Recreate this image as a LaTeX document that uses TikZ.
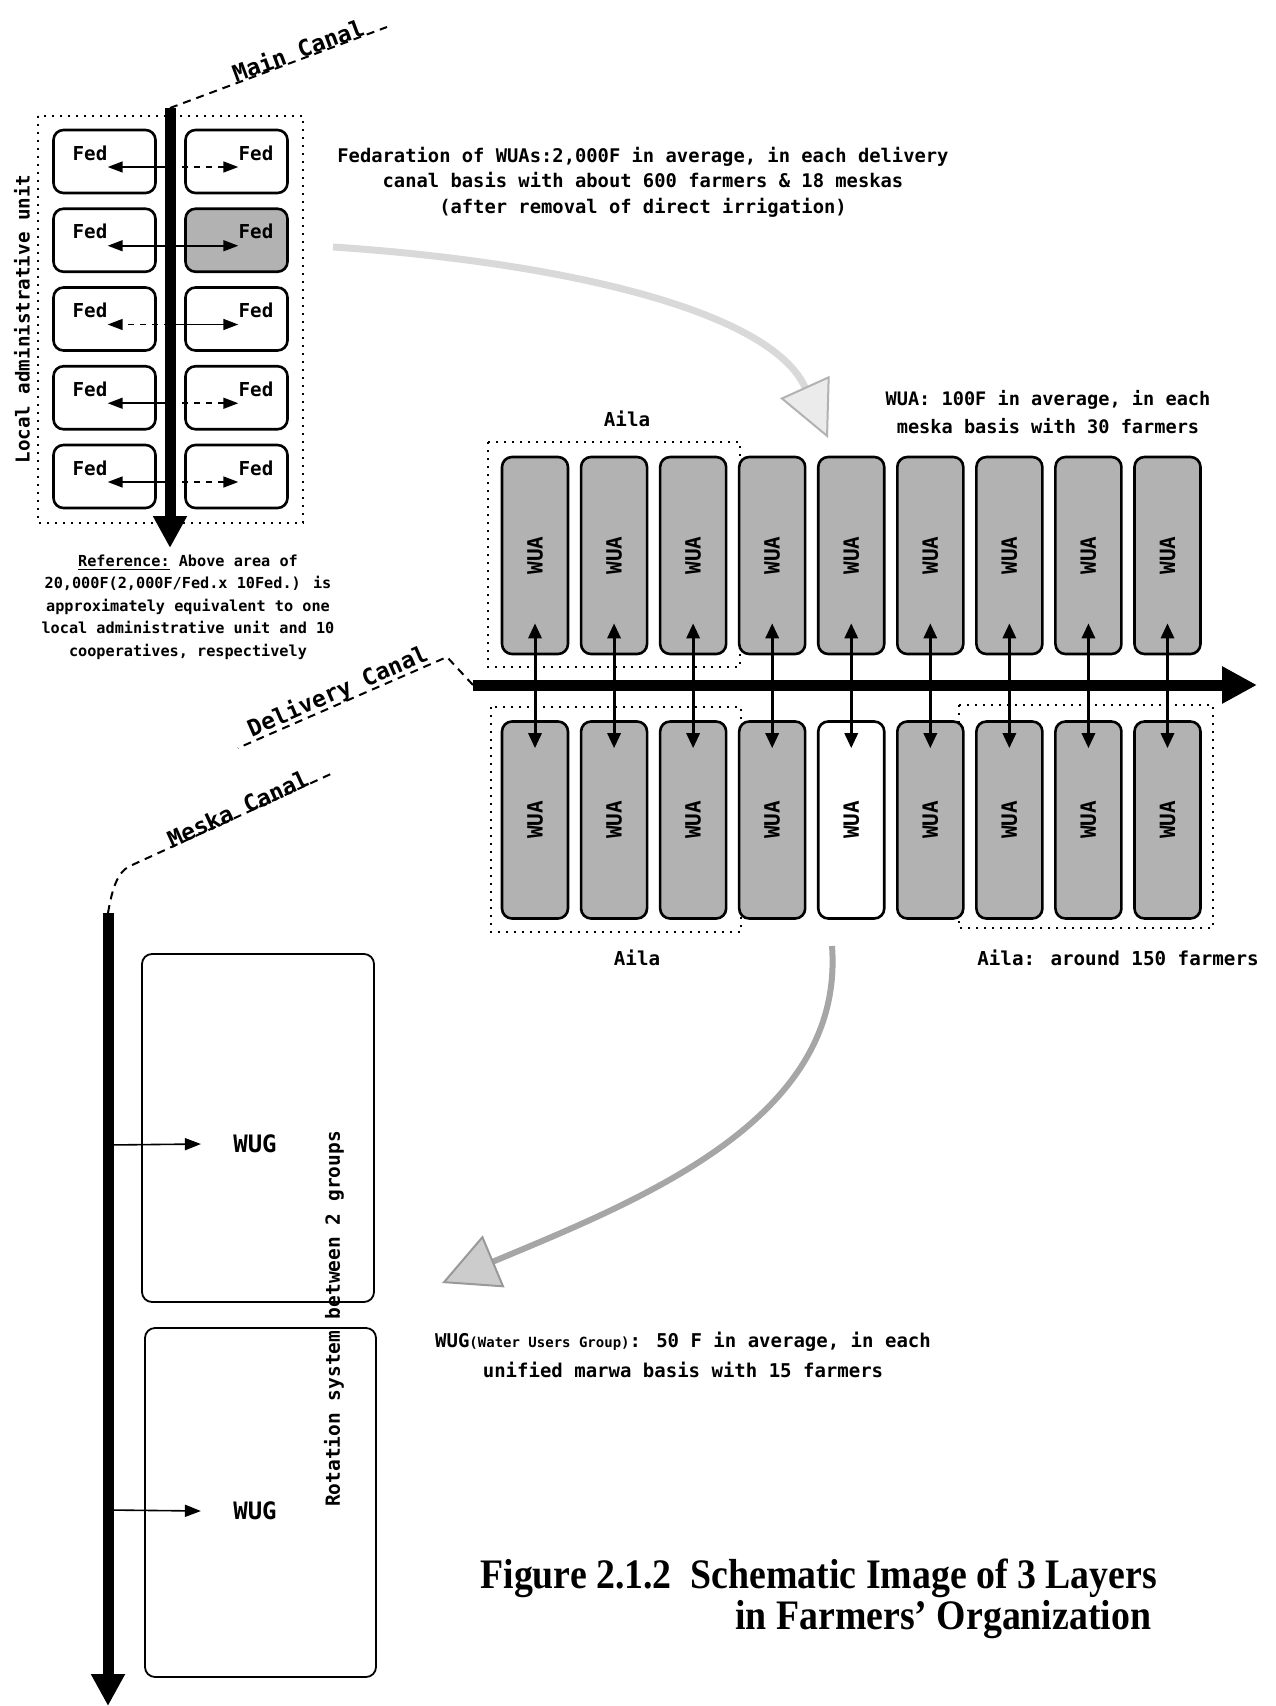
\documentclass[tikz,border=0pt]{standalone}
\usepackage{fontspec}
\setmainfont{DejaVu Sans Mono}
\newfontfamily\capfont[FakeStretch=0.9]{Liberation Serif}
\usetikzlibrary{arrows.meta,positioning}

\tikzset{
  canal/.style={line width=5.5pt, -{Triangle[length=16pt,width=16pt]}},
  tag/.style={line width=1pt, dash pattern=on 4pt off 3pt},
  tagtext/.style={inner sep=0pt, font=\fontsize{11.5}{13}\selectfont\bfseries},
  dotbox/.style={line width=1.2pt, dash pattern=on 1.2pt off 2.8pt},
  fedbox/.style={draw, line width=1.3pt, rounded corners=5pt, minimum width=51pt, minimum height=31.5pt},
  wuabox/.style={draw, line width=1.3pt, rounded corners=5pt, fill=black!30, minimum width=33pt, minimum height=98.5pt, inner sep=0pt, font=\fontsize{10.5}{12}\selectfont\bfseries},
  wugbox/.style={draw, line width=0.9pt, rounded corners=5pt},
  lbl/.style={inner sep=0pt, font=\fontsize{9.6}{11}\selectfont\bfseries},
  note/.style={inner sep=0pt, align=center, font=\fontsize{9.4}{12.75}\selectfont\bfseries},
  fedlink/.style={line width=0.8pt, -{Triangle[length=7.5pt,width=5.5pt]}},
  link/.style={line width=1.5pt, {Triangle[length=7.5pt,width=6.5pt]}-{Triangle[length=7.5pt,width=6.5pt]}},
  feed/.style={line width=0.8pt, -{Triangle[length=8pt,width=6pt]}},
  hop/.style={line width=3pt, draw=black!35, -{Triangle[length=28pt,width=28pt,fill=black!20,color=black!40,line width=1pt]}},
  captext/.style={inner sep=0pt, font=\capfont\fontsize{21}{24}\selectfont\bfseries}
}

\begin{document}
\begin{tikzpicture}[x=0.5pt, y=-0.5pt]
  \useasboundingbox (0,0) rectangle (1275,1706);

  % federations on the main canal
  \draw[dotbox] (38,116) rectangle (303,523);
  \node[lbl, rotate=90] (lau) at (22,319) {Local administrative unit};
  \foreach \i/\f/\ls/\rs in {1/white/solid/dashed, 2/black!30/solid/solid, 3/white/dashed/solid, 4/white/solid/dashed, 5/white/solid/dashed}{
    \pgfmathsetmacro\yc{161.5+78.75*(\i-1)}
    \node[fedbox] (fl\i) at (104.5,\yc) {};
    \node[fedbox, fill=\f] (fr\i) at (236.5,\yc) {};
    \node[lbl] (tl\i) at (90,\yc-8.5) {Fed};
    \node[lbl] (tr\i) at (256,\yc-8.5) {Fed};
    \coordinate (c\i) at (170,\yc+5.5);
    \draw[fedlink, \ls] (c\i) -- (c\i -| tl\i.east);
    \draw[fedlink, \rs] (c\i) -- (c\i -| tr\i.west);
  }
  \coordinate (mc0) at (170,108);
  \coordinate (mc1) at (170,548);
  \coordinate (mct) at (387,27);
  \draw[canal] (mc0) -- (mc1);
  \draw[tag] (mc0) -- (mct);
  \node[tagtext, rotate=20.4] (mcl) at (298,50) {Main Canal};

  \node[note] (fednote) at (643,182) {Fedaration of WUAs:2,000F in average, in each delivery\\canal basis with about 600 farmers \& 18 meskas\\(after removal of direct irrigation)};
  \node[note, font=\fontsize{7.6}{11.25}\selectfont\bfseries] (refnote) at (188,607) {\underline{Reference:} Above area of\\20,000F(2,000F/Fed.x 10Fed.) is\\approximately equivalent to one\\local administrative unit and 10\\cooperatives, respectively};

  % WUAs on the delivery canal
  \draw[dotbox] (488,442) rectangle (740,667);
  \draw[dotbox] (491,707) rectangle (741,932);
  \draw[dotbox] (959,705) rectangle (1213,928);
  \foreach \k/\f in {1/black!30, 2/black!30, 3/black!30, 4/black!30, 5/white, 6/black!30, 7/black!30, 8/black!30, 9/black!30}{
    \pgfmathsetmacro\xc{535+79.06*(\k-1)}
    \node[wuabox] (wt\k) at (\xc,555.5) {\rotatebox{90}{WUA}};
    \node[wuabox, fill=\f] (wb\k) at (\xc,820) {\rotatebox{90}{WUA}};
    \draw[link] ([yshift=16pt]wt\k.south) -- ([yshift=-14pt]wb\k.north);
  }
  \coordinate (dc0) at (473,685);
  \coordinate (dc1) at (1257,685);
  \coordinate (dck) at (447,657);
  \coordinate (dct) at (238,748);
  \draw[canal, -{Triangle[length=17.5pt,width=17.5pt]}] (dc0) -- (dc1);
  \draw[tag] (dc0) -- (dck) -- (dct);
  \node[tagtext, rotate=23.5] (dcl) at (338,692) {Delivery Canal};

  \node[lbl] (aila1) at (627,419) {Aila};
  \node[lbl] (aila2) at (637,958) {Aila};
  \node[lbl] (aila3) at (1118,958) {Aila: around 150 farmers};
  \node[note, font=\fontsize{9.3}{14.25}\selectfont\bfseries] (wuanote) at (1048,412) {WUA: 100F in average, in each\\meska basis with 30 farmers};

  % WUGs on the meska canal
  \node[wugbox, minimum width=116pt, minimum height=174pt] (g1) at (258,1128) {};
  \node[wugbox, minimum width=115.5pt, minimum height=174.5pt] (g2) at (260.5,1502.5) {};
  \node[lbl, font=\fontsize{12}{14}\selectfont\bfseries] (u1) at (255,1144) {WUG};
  \node[lbl, font=\fontsize{12}{14}\selectfont\bfseries] (u2) at (255,1511) {WUG};
  \node[lbl, rotate=90, font=\fontsize{9.75}{11}\selectfont\bfseries] (rot) at (334,1319) {Rotation system between 2 groups};
  \coordinate (m1) at (108,1145);
  \coordinate (m2) at (108,1510);
  \draw[feed] (m1) -- ([xshift=-16pt]u1.west);
  \draw[feed] (m2) -- ([xshift=-16pt]u2.west);
  \coordinate (mk0) at (108,913);
  \coordinate (mk1) at (108,1706);
  \coordinate (mkk) at (130,866);
  \coordinate (mkt) at (333,773);
  \draw[canal] (mk0) -- (mk1);
  \draw[tag] (mk0) .. controls (112,890) and (117,872) .. (mkk) -- (mkt);
  \node[tagtext, rotate=24.6] (mkl) at (238,809) {Meska Canal};
  \node[note, font=\fontsize{9.5}{15}\selectfont\bfseries] (wugnote) at (683,1355) {WUG{\fontsize{7}{9}\selectfont(Water Users Group)}: 50 F in average, in each\\unified marwa basis with 15 farmers};

  \coordinate (h1a) at (333,247);
  \coordinate (h1b) at (828,438);
  \draw[hop, line width=3.5pt, draw=black!15, -{Triangle[length=28pt,width=27pt,fill=black!8,color=black!30,line width=1pt]}] (h1a) .. controls (560,262) and (770,310) .. (h1b);
  \coordinate (h2a) at (832,946);
  \coordinate (h2b) at (442,1283);
  \draw[hop] (h2a) .. controls (845,1120) and (640,1200) .. (h2b);

  \node[captext, anchor=west] (cap1) at (480,1578) {Figure 2.1.2\ \ Schematic Image of 3 Layers};
  \node[captext, anchor=west] (cap2) at (735,1620) {in Farmers’ Organization};
\end{tikzpicture}
\end{document}
